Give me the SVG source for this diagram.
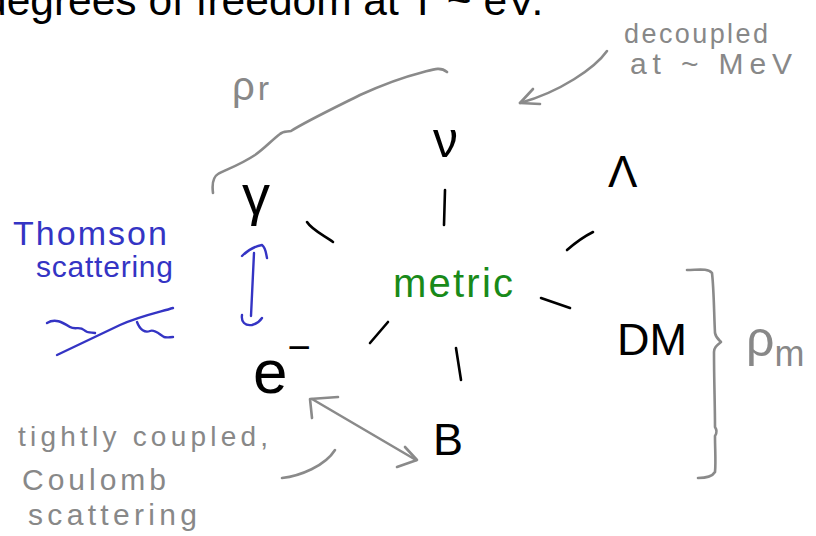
<svg xmlns="http://www.w3.org/2000/svg" width="816" height="536" viewBox="0 0 816 536">
<style>
.bk{fill:#000;font-family:"Liberation Sans","DejaVu Sans",sans-serif}
.gr{fill:#888;font-family:"Liberation Sans","DejaVu Sans",sans-serif}
.bl{fill:#3434c4;font-family:"Liberation Sans","DejaVu Sans",sans-serif}
.gn{fill:#198a19;font-family:"Liberation Sans","DejaVu Sans",sans-serif}
.sk{fill:none;stroke:#000;stroke-width:2.6;stroke-linecap:round;stroke-linejoin:round}
.sg{fill:none;stroke:#8a8a8a;stroke-width:2.6;stroke-linecap:round;stroke-linejoin:round}
.sb{fill:none;stroke:#3434c4;stroke-width:2.4;stroke-linecap:round;stroke-linejoin:round}
</style>
<rect width="816" height="536" fill="#fff"/>
<text class="bk" x="-17" y="15" font-size="42.5">degrees of freedom at T ~ eV.</text>

<g id="nu"><text class="bk" x="433" y="157" font-size="50">ν</text></g>
<g id="lambda"><text class="bk" x="608" y="187" font-size="44">Λ</text></g>
<g id="gamma"><text class="bk" x="242" y="214" font-size="56">γ</text></g>
<g id="metric"><text class="gn" x="393" y="297" font-size="40" textLength="120" lengthAdjust="spacing">metric</text></g>
<g id="dm"><text class="bk" x="617" y="355" font-size="45">DM</text></g>
<g id="electron"><text class="bk" x="253" y="393" font-size="62">e<tspan font-size="40" dy="-32">−</tspan></text></g>
<g id="baryon"><text class="bk" x="433" y="455" font-size="45">B</text></g>

<g id="rho-r"><text class="gr" x="232" y="100" font-size="40">ρ<tspan font-size="34" dx="3">r</tspan></text></g>
<g id="rho-m"><text class="gr" x="746" y="356" font-size="50">ρ<tspan font-size="36" dy="10">m</tspan></text></g>
<g id="decoupled-note">
<text class="gr" x="624" y="43" font-size="27" textLength="144" lengthAdjust="spacing">decoupled</text>
<text class="gr" x="630" y="74" font-size="30" textLength="162" lengthAdjust="spacing">at ~ MeV</text>
</g>
<g id="thomson-note">
<text class="bl" x="13" y="245" font-size="34" textLength="154" lengthAdjust="spacing">Thomson</text>
<text class="bl" x="36" y="277" font-size="30" textLength="137" lengthAdjust="spacing">scattering</text>
<path class="sb" d="M47,323 C55,318 62,322 70,327 C75,330 80,326 84,330 C88,334 92,332 95,333"/>
<path class="sb" d="M57,355 L120,325 C140,316 160,312 173,308"/>
<path class="sb" d="M137,322 C140,330 145,333 150,331 C155,329 160,335 164,337 C167,338 170,337 173,337"/>
</g>
<g id="coulomb-note">
<text class="gr" x="18" y="446" font-size="28" textLength="250" lengthAdjust="spacing">tightly coupled,</text>
<text class="gr" x="22" y="490" font-size="30" textLength="144" lengthAdjust="spacing">Coulomb</text>
<text class="gr" x="28" y="525" font-size="30" textLength="169" lengthAdjust="spacing">scattering</text>
</g>

<g id="connectors">
<path class="sk" d="M445,190 L444,225"/>
<path class="sk" d="M307,222 C312,230 325,236 333,242"/>
<path class="sk" d="M567,250 C575,243 585,236 593,232"/>
<path class="sk" d="M541,298 L570,308"/>
<path class="sk" d="M370,343 L388,322"/>
<path class="sk" d="M456,348 L461,380"/>
<path class="sb" d="M254,253 L251,316"/>
<path class="sb" d="M242,256 C248,250 256,246 262,245 C266,248 266,254 267,258"/>
<path class="sb" d="M242,315 C241,322 245,326 252,325 C256,324 260,321 262,318"/>
<path class="sg" d="M213,193 C212,185 213,177 218,174 C225,170 240,165 255,155 C265,148 272,140 280,134 C283,131 287,132 291,131 C305,122 330,110 360,95 C380,86 400,78 420,73 C432,70 440,66 447,72"/>
<path class="sg" d="M687,270 C698,270 708,268 712,273 C714,290 714,315 715,333 C716,338 719,340 721,342 C716,346 714,348 714,352 C714,380 715,405 715,427 C717,430 717,433 715,436 C715,450 716,462 715,472 C712,477 705,478 698,478"/>
<path class="sg" d="M607,51 C595,68 560,92 520,103"/>
<path class="sg" d="M533,89 L520,103 L540,104"/>
<path class="sg" d="M312,399 L416,460"/>
<path class="sg" d="M312,418 L310,399 L338,397"/>
<path class="sg" d="M397,467 L417,460 L405,447"/>
<path class="sg" d="M282,478 C300,476 325,466 335,450"/>
</g>
</svg>
